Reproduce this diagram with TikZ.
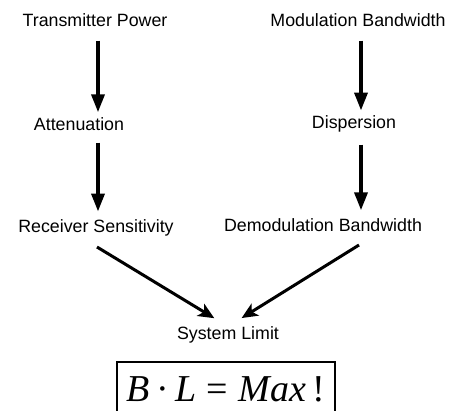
\documentclass[tikz,border=0pt]{standalone}
\usepackage{fontspec}
\setmainfont{Liberation Sans}
\newfontfamily\tms{Liberation Serif}
\usetikzlibrary{arrows.meta}
\tikzset{
  lbl/.style={font=\fontsize{17.8}{19}\selectfont, inner sep=0pt, anchor=center},
  varr/.style={line width=3.6pt, -{Triangle[width=13pt,length=18pt]}},
  darr/.style={line width=3pt, -{Stealth[width=14pt,length=16pt,inset=4pt]}},
  formula/.style={draw, line width=1.3pt, minimum width=218pt, minimum height=54pt, inner sep=0pt,
    font=\tms\fontsize{38}{40}\selectfont}
}
\begin{document}
\begin{tikzpicture}[x=1pt,y=-1pt]
\useasboundingbox (0,0) rectangle (454,410);
\node[lbl] (tp) at (95,20) {Transmitter Power};
\node[lbl] (mb) at (358,20) {Modulation Bandwidth};
\node[lbl] (att) at (79,124) {Attenuation};
\node[lbl] (dis) at (354,124) {Dispersion};
\node[lbl] (rs) at (96,228) {Receiver Sensitivity};
\node[lbl] (db) at (323,225) {Demodulation Bandwidth};
\node[lbl] (sl) at (228,335) {System Limit};
\node[formula] (f) at (226,389) {\itshape B\,\upshape·\,\itshape L\;\upshape=\;\itshape Max\,\upshape!};
\coordinate (lx) at (98,0);
\coordinate (rx) at (361,0);
\draw[varr, shorten <=14pt, shorten >=5pt] (tp.south -| lx) -- (att.north -| lx);
\draw[varr, shorten <=14pt, shorten >=5pt] (mb.south -| rx) -- (dis.north -| rx);
\draw[varr, shorten <=12pt, shorten >=8pt] (att.south -| lx) -- (rs.north -| lx);
\draw[varr, shorten <=12pt, shorten >=8pt] (dis.south -| rx) -- (db.north -| rx);
\coordinate (ls) at (97,247);
\coordinate (rs2) at (359,245);
\draw[darr, shorten >=16pt] (ls) -- (sl.north);
\draw[darr, shorten >=16pt] (rs2) -- (sl.north);
\end{tikzpicture}
\end{document}
